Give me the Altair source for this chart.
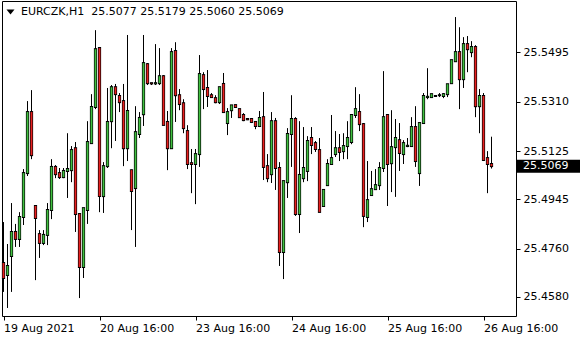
import altair as alt
import pandas as pd

symbol = "EURCZK,H1"

opens = [25.4707, 25.4662, 25.4733, 25.4823, 25.4797, 25.4879, 25.5043, 25.5271, 25.4920, 25.4815,
         25.4782, 25.4812, 25.4905, 25.5066, 25.5043, 25.5028, 25.5051, 25.5054, 25.5136, 25.4890,
         25.4692, 25.4905, 25.5155, 25.5290, 25.5510, 25.4957, 25.5069, 25.5237, 25.5364, 25.5331,
         25.5312, 25.5136, 25.5054, 25.4987, 25.5189, 25.5263, 25.5450, 25.5379, 25.5378, 25.5379,
         25.5405, 25.5234, 25.5136, 25.5499, 25.5334, 25.5304, 25.5200, 25.5080, 25.5077, 25.5114,
         25.5409, 25.5361, 25.5334, 25.5323, 25.5308, 25.5376, 25.5230, 25.5278, 25.5297, 25.5282,
         25.5260, 25.5245, 25.5245, 25.5234, 25.5219, 25.5252, 25.5069, 25.5039, 25.5237, 25.5062,
         25.4748, 25.5009, 25.5189, 25.5245, 25.4890, 25.5024, 25.5051, 25.5174, 25.5155, 25.5129,
         25.4920, 25.4998, 25.5077, 25.5114, 25.5136, 25.5125, 25.5144, 25.5159, 25.5260, 25.5271,
         25.5226, 25.4879, 25.4961, 25.4983, 25.4998, 25.5062, 25.5260, 25.5080, 25.5140, 25.5166,
         25.5114, 25.5144, 25.5144, 25.5215, 25.5043, 25.5230, 25.5327, 25.5327, 25.5331, 25.5334,
         25.5331, 25.5338, 25.5379, 25.5461, 25.5495, 25.5394, 25.5525, 25.5495, 25.5514, 25.5293,
         25.5331, 25.5099, 25.5077]

highs = [25.4860, 25.4778, 25.4931, 25.4853, 25.4897, 25.5058, 25.5312, 25.5353, 25.4922, 25.4830,
         25.4830, 25.4931, 25.5095, 25.5073, 25.5062, 25.5062, 25.5192, 25.5144, 25.5159, 25.4892,
         25.4913, 25.5237, 25.5338, 25.5577, 25.5511, 25.5084, 25.5361, 25.5372, 25.5376, 25.5342,
         25.5376, 25.5559, 25.5056, 25.5293, 25.5271, 25.5559, 25.5454, 25.5380, 25.5525, 25.5510,
         25.5409, 25.5275, 25.5510, 25.5532, 25.5357, 25.5319, 25.5222, 25.5133, 25.5133, 25.5484,
         25.5420, 25.5428, 25.5342, 25.5334, 25.5365, 25.5417, 25.5286, 25.5297, 25.5298, 25.5283,
         25.5267, 25.5246, 25.5246, 25.5235, 25.5275, 25.5346, 25.5114, 25.5271, 25.5249, 25.5084,
         25.5014, 25.5211, 25.5334, 25.5252, 25.5237, 25.5215, 25.5181, 25.5215, 25.5163, 25.5174,
         25.4981, 25.5095, 25.5260, 25.5200, 25.5189, 25.5192, 25.5237, 25.5263, 25.5364, 25.5338,
         25.5230, 25.5088, 25.5051, 25.5058, 25.5084, 25.5424, 25.5263, 25.5278, 25.5245, 25.5230,
         25.5166, 25.5174, 25.5252, 25.5293, 25.5231, 25.5342, 25.5435, 25.5339, 25.5334, 25.5342,
         25.5342, 25.5376, 25.5466, 25.5626, 25.5588, 25.5551, 25.5555, 25.5536, 25.5521, 25.5357,
         25.5342, 25.5125, 25.5179]

lows = [25.4599, 25.4539, 25.4599, 25.4767, 25.4767, 25.4849, 25.5032, 25.5095, 25.4643, 25.4726,
        25.4774, 25.4774, 25.4871, 25.5024, 25.5021, 25.5024, 25.4950, 25.5009, 25.4823, 25.4576,
        25.4651, 25.4853, 25.5154, 25.5282, 25.4897, 25.4894, 25.5062, 25.5136, 25.5163, 25.5271,
        25.5069, 25.5088, 25.4830, 25.4767, 25.5174, 25.5219, 25.5372, 25.5372, 25.5372, 25.5372,
        25.5222, 25.5054, 25.5135, 25.5234, 25.5278, 25.5192, 25.5058, 25.4968, 25.4927, 25.5066,
        25.5282, 25.5290, 25.5326, 25.5304, 25.5301, 25.5270, 25.5185, 25.5249, 25.5289, 25.5249,
        25.5237, 25.5241, 25.5230, 25.5207, 25.5215, 25.5017, 25.5009, 25.5006, 25.4980, 25.4696,
        25.4647, 25.4950, 25.5066, 25.4883, 25.4819, 25.5009, 25.5013, 25.5114, 25.5122, 25.4897,
        25.4919, 25.4997, 25.5076, 25.5103, 25.5088, 25.5095, 25.5095, 25.5151, 25.5249, 25.5200,
        25.4841, 25.4860, 25.4960, 25.4980, 25.4980, 25.5047, 25.4920, 25.4972, 25.4954, 25.5051,
        25.5077, 25.5140, 25.5143, 25.5066, 25.4995, 25.5229, 25.5319, 25.5326, 25.5329, 25.5327,
        25.5323, 25.5327, 25.5378, 25.5460, 25.5282, 25.5361, 25.5420, 25.5476, 25.5252, 25.5192,
        25.5088, 25.4968, 25.5060]

closes = [25.4651, 25.4696, 25.4823, 25.4797, 25.4879, 25.5043, 25.5271, 25.5110, 25.4875, 25.4782,
          25.4812, 25.4905, 25.5066, 25.5039, 25.5028, 25.5051, 25.5058, 25.5129, 25.4890, 25.4692,
          25.4912, 25.5159, 25.5290, 25.5506, 25.4957, 25.5069, 25.5234, 25.5364, 25.5338, 25.5308,
          25.5136, 25.5275, 25.4976, 25.5196, 25.5249, 25.5454, 25.5379, 25.5378, 25.5379, 25.5405,
          25.5223, 25.5136, 25.5495, 25.5334, 25.5301, 25.5211, 25.5077, 25.5077, 25.5114, 25.5413,
          25.5357, 25.5331, 25.5327, 25.5308, 25.5364, 25.5271, 25.5271, 25.5296, 25.5290, 25.5252,
          25.5241, 25.5244, 25.5234, 25.5219, 25.5249, 25.5066, 25.5024, 25.5237, 25.5062, 25.4748,
          25.5013, 25.5189, 25.5245, 25.4890, 25.5036, 25.5062, 25.5163, 25.5148, 25.5133, 25.4898,
          25.4980, 25.5077, 25.5099, 25.5136, 25.5122, 25.5144, 25.5174, 25.5260, 25.5282, 25.5226,
          25.4883, 25.4942, 25.4983, 25.4998, 25.5062, 25.5252, 25.5077, 25.5140, 25.5174, 25.5118,
          25.5155, 25.5145, 25.5215, 25.5088, 25.5230, 25.5331, 25.5328, 25.5338, 25.5331, 25.5334,
          25.5338, 25.5375, 25.5465, 25.5495, 25.5394, 25.5525, 25.5506, 25.5514, 25.5293, 25.5331,
          25.5092, 25.5077, 25.5069]

tick_pos = [0, 24, 48, 72, 96, 120]
tick_labels = ["19 Aug 2021", "20 Aug 16:00", "23 Aug 16:00", "24 Aug 16:00", "25 Aug 16:00", "26 Aug 16:00"]
price_ticks = [25.5495, 25.5310, 25.5125, 25.4945, 25.4760, 25.4580]

FONT = "DejaVu Sans"
GREEN = "#40c040"
RED = "#e82020"

df = pd.DataFrame({
    "i": list(range(len(opens))),
    "open": opens, "high": highs, "low": lows, "close": closes,
})
df["dir"] = ["up" if c >= o else "down" for o, c in zip(opens, closes)]
df["top"] = [max(o, c) for o, c in zip(opens, closes)]
df["bot"] = [min(o, c) for o, c in zip(opens, closes)]

label_expr = " : ".join(
    f"datum.value == {p} ? '{t}'" for p, t in zip(tick_pos, tick_labels)
) + " : ''"

xscale = alt.Scale(domain=[-0.375, 128.125], nice=False, zero=False, padding=0)
yscale = alt.Scale(domain=[25.4509, 25.5686], nice=False, zero=False)

x_enc = alt.X("i:Q", scale=xscale, title=None,
              axis=alt.Axis(orient="bottom", values=tick_pos, labelExpr=label_expr,
                            labelAlign="left", labelFont=FONT, labelFontSize=11,
                            labelColor="black", labelPadding=2, tickSize=4,
                            tickColor="black", domain=False, grid=False,
                            labelFlush=False, labelOverlap=False))

# upper wick: high -> top of body
wick_hi = alt.Chart(df).mark_rule(color="black", strokeWidth=1).encode(
    x=x_enc,
    y=alt.Y("high:Q", scale=yscale, title=None,
            axis=alt.Axis(orient="right", values=price_ticks, format=".4f",
                          labelFont=FONT, labelFontSize=11, labelColor="black",
                          labelPadding=3, tickSize=4, tickColor="black",
                          domain=False, grid=False, labelOverlap=False)),
    y2="top:Q",
)

# lower wick: bottom of body -> low
wick_lo = alt.Chart(df).mark_rule(color="black", strokeWidth=1).encode(
    x=alt.X("i:Q", scale=xscale),
    y=alt.Y("bot:Q", scale=yscale),
    y2="low:Q",
)

# black frame of each body
frames = alt.Chart(df).mark_bar(size=3.2, color="black", yOffset=-1, y2Offset=1).encode(
    x=alt.X("i:Q", scale=xscale),
    y=alt.Y("top:Q", scale=yscale),
    y2="bot:Q",
)

# coloured part of each body
fills = alt.Chart(df).mark_bar(size=1.8).encode(
    x=alt.X("i:Q", scale=xscale),
    y=alt.Y("top:Q", scale=yscale),
    y2="bot:Q",
    color=alt.Color("dir:N", scale=alt.Scale(domain=["up", "down"], range=[GREEN, RED]), legend=None),
)

last = pd.DataFrame({
    "close": [closes[-1]],
    "label": [f"{closes[-1]:.4f}"],
    "header": [f"{symbol}\u00a0\u00a0{opens[-1]:.4f} {highs[-1]:.4f} {lows[-1]:.4f} {closes[-1]:.4f}"],
})

box = alt.Chart(last).mark_point(
    shape="M0,-1H9.85V1H0Z", size=169, filled=True, color="black", opacity=1, strokeWidth=0
).encode(x=alt.value(514), y=alt.Y("close:Q", scale=yscale))

box_text = alt.Chart(last).mark_text(
    align="left", baseline="middle", font=FONT, fontSize=11, color="white"
).encode(x=alt.value(521), y=alt.Y("close:Q", scale=yscale), text="label:N")

tri = alt.Chart(last).mark_point(
    shape="M-1,-0.6L1,-0.6L0,0.6Z", size=64, filled=True, color="black", opacity=1, strokeWidth=0
).encode(x=alt.value(8.5), y=alt.value(11))

header = alt.Chart(last).mark_text(
    align="left", baseline="middle", font=FONT, fontSize=11, color="black"
).encode(x=alt.value(19), y=alt.value(11), text="header:N")

chart = alt.layer(wick_hi, wick_lo, frames, fills, box, box_text, tri, header).properties(
    width=514, height=315,
    autosize=alt.AutoSizeParams(type="none"),
    padding={"left": 2, "top": 1, "right": 64, "bottom": 24},
    background="white",
).configure_view(stroke="black", strokeWidth=1)

chart.save("out.html", embed_options={"renderer": "svg", "actions": False})
